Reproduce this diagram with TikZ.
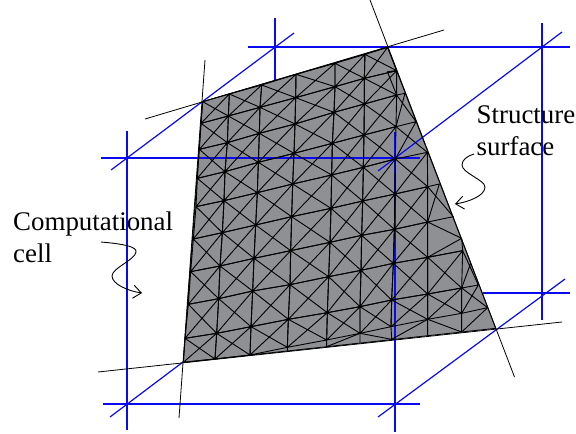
\documentclass[tikz,border=0pt]{standalone}
\usepackage{fontspec}
\setmainfont{Liberation Serif}
\usetikzlibrary{arrows.meta}
\definecolor{cellblue}{RGB}{10,10,240}
\definecolor{surfgray}{RGB}{143,144,148}
\tikzset{
  bluewire/.style={draw=cellblue,line width=1.2pt},
  edgeline/.style={draw=black,line width=0.8pt},
  meshline/.style={draw=black,line width=0.9pt,line join=round},
  pointer/.style={draw=black,line width=0.9pt,-{Straight Barb[length=8pt,width=13pt,line width=0.9pt]}},
  lab/.style={anchor=base west,inner sep=0pt,font=\fontsize{26.9pt}{30pt}\selectfont}
}
\begin{document}
\begin{tikzpicture}[x=1pt,y=-1pt]
\useasboundingbox (0,0) rectangle (576,434);
% mesh coordinates (third-of-a-pixel grid)
\begin{scope}[shift={(170,30)},x=0.33333pt,y=-0.33333pt]
\foreach \n/\px/\py in {
 a0/98/215,a1/178/192,a2/275/165,a3/378/133,a4/495/100,a5/585/73,a6/653/52,
 b0/93/280,b1/175/258,b2/270/232,b3/377/203,b4/495/170,b5/583/145,b6/680/122,
 c0/88/358,c1/172/338,c2/268/310,c3/375/282,c4/492/247,c5/583/222,c6/680/195,c7/705/190,
 d0/82/445,d1/165/425,d2/265/397,d3/372/370,d4/487/340,d5/582/315,d6/678/290,d7/738/275,
 e0/78/530,e1/162/512,e2/262/488,e3/368/462,e4/485/435,e5/580/412,e6/676/387,e7/772/367,
 f0/70/627,f1/157/608,f2/257/585,f3/365/560,f4/483/535,f5/578/513,f6/675/492,f7/773/470,f8/808/462,
 g0/62/725,g1/150/708,g2/252/685,g3/362/662,g4/480/637,g5/575/616,g6/673/598,g7/773/576,g8/850/560,
 h0/55/823,h1/146/806,h2/248/783,h3/360/764,h4/476/740,h5/573/721,h6/670/700,h7/773/682,h8/878/662,
 i0/45/925,i1/140/910,i2/243/890,i3/355/868,i4/472/848,i5/570/830,i6/665/810,i7/773/792,i8/875/774,i9/925/765,
 j0/40/997,j1/135/987,j2/240/975,j3/352/952,j4/470/930,j5/570/910,j6/663/890,j7/773/868,j8/875/850,j9/953/833,
 k3/352/963,k4/470/950,k5/570/939,k6/665/928,k7/773/916,k8/875/906,k9/977/895,
 p1/652/125,p2/875/625,p3/902/700}
 {\coordinate (\n) at (\px,\py);}
\end{scope}
% free ends of the extended lines
\coordinate (tl) at (145,119); \coordinate (tr) at (444,30);
\coordinate (lt) at (205,60);  \coordinate (lb) at (179,418);
\coordinate (rt) at (370,0);   \coordinate (rb) at (514.5,377);
\coordinate (bl) at (98,372);  \coordinate (br) at (562,322);
% blue wires hidden by the surface
\draw[bluewire] (127,131) -- (127,430);
\draw[bluewire] (103,404) -- (420,404);
\draw[bluewire] (275,18) -- (275,80);
\draw[bluewire] (248,47) -- (570,47);
\draw[bluewire] (542,23) -- (542,320);
\draw[bluewire] (483,293) -- (570,293);
\draw[bluewire] (111,170) -- (294,33);
\draw[bluewire] (110,417) -- (183,362);
\draw[bluewire] (378,417) -- (565,279);
% extended black lines
\draw[edgeline] (tl) -- (tr);
\draw[edgeline] (lt) -- (lb);
\draw[edgeline] (rt) -- (rb);
\draw[edgeline] (bl) -- (br);
% surface
\fill[surfgray] (a0) -- (a6) -- (k9) -- (j0) -- cycle;
% blue wires seen across the surface
\draw[bluewire] (101,158) -- (420,158);
\draw[bluewire] (395,132) -- (395,432);
\draw[bluewire] (378,171) -- (562,32);
% regular cells
\foreach \r/\s in {a/b,b/c,c/d,d/e,e/f,f/g,g/h,h/i,i/j}
 \foreach \c/\d in {0/1,1/2,2/3,3/4,4/5,5/6}
  {\draw[meshline] (\r\c) -- (\r\d) -- (\s\d) -- (\s\c) -- cycle (\r\c) -- (\s\d) (\r\d) -- (\s\c);}
\foreach \r/\s/\c/\d in {e/f/6/7,f/g/6/7,g/h/6/7,h/i/6/7,i/j/6/7,i/j/7/8,h/i/7/8}
  {\draw[meshline] (\r\c) -- (\r\d) -- (\s\d) -- (\s\c) -- cycle (\r\c) -- (\s\d) (\r\d) -- (\s\c);}
% irregular cells along the right and bottom edges
\draw[meshline] (p1) -- (b6) (p1) -- (c6) -- (c7) (c6) -- (d7) (c7) -- (d6) -- (d7) (e6) -- (d7) (d6) -- (e7);
\draw[meshline] (f7) -- (f8) (f7) -- (g8) (f8) -- (g7) -- (g8) (g7) -- (p2) -- (h7) -- (h8) (p2) -- (h8);
\draw[meshline] (h8) -- (i9) -- (i8) -- (p3) (i8) -- (j9) -- (j8) -- (i9);
\draw[meshline] (j3) -- (k3) (j4) -- (k4) (j5) -- (k5) (j6) -- (k6) (j7) -- (k7) (j8) -- (k8);
\draw[meshline] (k4) -- (j5) -- (k6) -- (j7) -- (k8) -- (j9);
% outline
\draw[meshline] (a0) -- (a6) -- (k9) -- (j0) -- cycle;
% labels
\node[lab] (comp) at (13,230) {Computational};
\node[lab] (cell) at (13,262) {cell};
\node[lab] (struct) at (476.5,123) {Structure};
\node[lab] (surf) at (476.5,155) {surface};
% pointers
\coordinate (ca) at (101,242); \coordinate (cb) at (142,293);
\coordinate (sa) at (474,154); \coordinate (sb) at (455,204);
\draw[pointer] (ca) .. controls (125,244) and (137,247) .. (136,252) .. controls (135,260) and (112,268) .. (112,276) .. controls (112,284) and (128,291) .. (cb);
\draw[pointer] (sa) .. controls (467,156) and (462,160) .. (462,165) .. controls (462,173) and (485,180) .. (485,187) .. controls (485,196) and (468,202) .. (sb);
\end{tikzpicture}
\end{document}
